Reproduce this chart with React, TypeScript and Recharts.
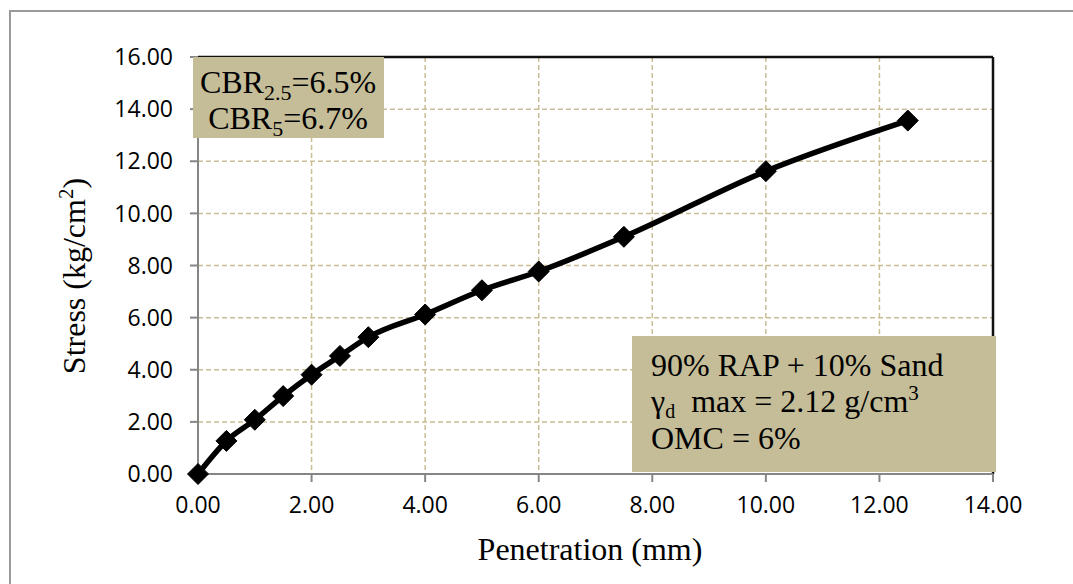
import React from 'react';
import { LineChart, Line, XAxis, YAxis, CartesianGrid, ReferenceLine } from 'recharts';

const penetration = [0, 0.5, 1, 1.5, 2, 2.5, 3, 4, 5, 6, 7.5, 10, 12.5];
const stress = [0, 1.27, 2.08, 2.99, 3.81, 4.53, 5.25, 6.12, 7.05, 7.77, 9.1, 11.62, 13.56];
const xTicks = [0, 2, 4, 6, 8, 10, 12, 14];
const yTicks = [0, 2, 4, 6, 8, 10, 12, 14, 16];

const data = penetration.map((x, i) => ({ x, y: stress[i] }));

const TAN = '#c4bd98';
const GRID = '#c9bd93';
const SERIF = '"Liberation Serif", "Times New Roman", serif';
const SANS = '"Open Sans", "Liberation Sans", sans-serif';

const Diamond = (props: any) => {
  const { cx, cy, index } = props;
  if (cx == null || cy == null) return <g key={`d${index}`} />;
  const r = 10.5;
  return (
    <polygon
      key={`d${index}`}
      points={`${cx},${cy - r} ${cx + r},${cy} ${cx},${cy + r} ${cx - r},${cy}`}
      fill="#000"
      stroke="#000"
    />
  );
};

const fmt = (v: number) => v.toFixed(2);

export default function App() {
  return (
    <div style={{ position: 'absolute', left: 0, top: 0, width: 1073, height: 584, overflow: 'hidden', background: '#fff' }}>
      <div
        style={{
          position: 'absolute',
          left: 9,
          top: 10,
          width: 1100,
          height: 600,
          borderLeft: '2px solid #9a9a9a',
          borderTop: '2px solid #9a9a9a',
        }}
      />
      <div style={{ position: 'absolute', left: 0, top: 0 }}>
        <LineChart width={1073} height={584} data={data} margin={{ top: 57, right: 80, bottom: 0, left: 0 }}>
          <CartesianGrid stroke={GRID} strokeWidth={1.5} strokeDasharray="5 3" />
          <XAxis
            dataKey="x"
            type="number"
            domain={[0, 14]}
            ticks={xTicks}
            tickFormatter={fmt}
            height={110}
            tickSize={8}
            tickMargin={15}
            stroke="#868686"
            strokeWidth={2}
            tick={{ fontFamily: SANS, fontSize: 23, fill: '#000' }}
          />
          <YAxis
            type="number"
            domain={[0, 16]}
            ticks={yTicks}
            tickFormatter={fmt}
            width={198}
            tickSize={8}
            tickMargin={17}
            stroke="#868686"
            strokeWidth={2}
            tick={{ fontFamily: SANS, fontSize: 23, fill: '#000' }}
          />
          <ReferenceLine y={16} stroke="#111" strokeWidth={2.5} />
          <ReferenceLine x={14} stroke="#111" strokeWidth={2.5} />
          <Line
            dataKey="y"
            type="monotone"
            stroke="#000"
            strokeWidth={5.5}
            dot={Diamond}
            activeDot={false}
            isAnimationActive={false}
          />
        </LineChart>
      </div>
      <svg width={1073} height={584} style={{ position: 'absolute', left: 0, top: 0, pointerEvents: 'none' }}>
        <text
          x={85}
          y={276}
          transform="rotate(-90 85 276)"
          textAnchor="middle"
          fontFamily={SERIF}
          fontSize={32}
          fill="#000"
        >
          Stress (kg/cm<tspan fontSize={21} dy={-12}>2</tspan><tspan dy={12}>)</tspan>
        </text>
        <text x={590} y={560} textAnchor="middle" fontFamily={SERIF} fontSize={32} fill="#000">
          Penetration (mm)
        </text>

        <rect x={193} y={57} width={191} height={81} fill={TAN} />
        <text x={288} y={93} textAnchor="middle" fontFamily={SERIF} fontSize={32} fill="#000">
          CBR<tspan fontSize={22} dy={7}>2.5</tspan><tspan dy={-7}>=6.5%</tspan>
        </text>
        <text x={288} y={129} textAnchor="middle" fontFamily={SERIF} fontSize={32} fill="#000">
          CBR<tspan fontSize={22} dy={7}>5</tspan><tspan dy={-7}>=6.7%</tspan>
        </text>

        <rect x={632} y={336} width={364} height={136} fill={TAN} />
        <text x={651} y={376} fontFamily={SERIF} fontSize={32} fill="#000" style={{ whiteSpace: 'pre' }}>
          90% RAP + 10% Sand
        </text>
        <text x={651} y={412} fontFamily={SERIF} fontSize={32} fill="#000" style={{ whiteSpace: 'pre' }}>
          γ<tspan fontSize={20} dy={6}>d</tspan><tspan dy={-6}>{'  max = 2.12 g/cm'}</tspan><tspan fontSize={21} dy={-12}>3</tspan>
        </text>
        <text x={651} y={449} fontFamily={SERIF} fontSize={32} fill="#000" style={{ whiteSpace: 'pre' }}>
          OMC = 6%
        </text>
      </svg>
    </div>
  );
}
